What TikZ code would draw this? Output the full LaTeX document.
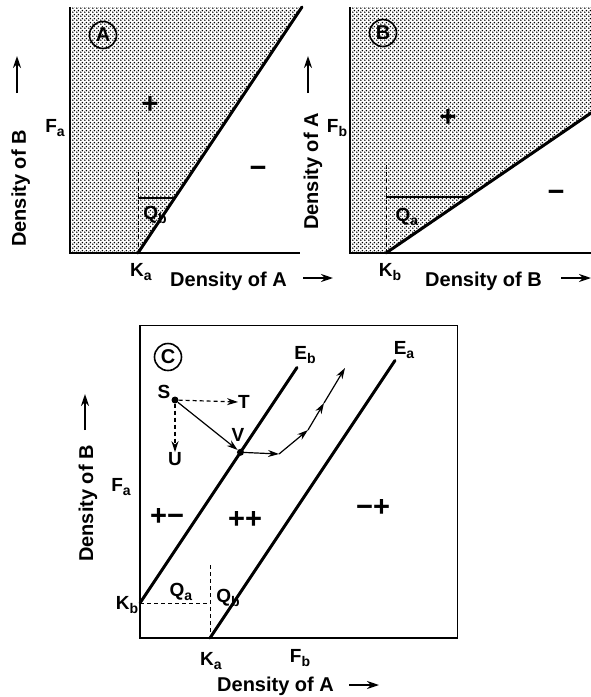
\documentclass[tikz,border=0pt]{standalone}
\usepackage{fontspec}
\setmainfont{Liberation Sans}
\usetikzlibrary{arrows.meta, patterns, calc}

\pgfdeclarepatternformonly{stipple}{\pgfpointorigin}{\pgfqpoint{4pt}{4pt}}{\pgfqpoint{4pt}{4pt}}{%
  \pgfpathcircle{\pgfqpoint{1pt}{1pt}}{1.02pt}%
  \pgfpathcircle{\pgfqpoint{3pt}{3pt}}{1.02pt}%
  \pgfusepath{fill}}

\newcommand{\lsub}[2]{#1\raisebox{-0.25em}{\fontsize{14}{15}\selectfont #2}}

\tikzset{
  axis/.style={line width=1.5pt},
  border/.style={line width=0.8pt},
  isocline/.style={line width=3pt, line cap=round},
  guide/.style={line width=1pt, dash pattern=on 4pt off 3pt},
  qline/.style={line width=1.3pt},
  lab/.style={font=\fontsize{19}{21}\selectfont\bfseries, inner sep=0pt},
  sign/.style={font=\fontsize{29}{31}\selectfont\bfseries, inner sep=0pt},
  axtitle/.style={font=\fontsize{20}{22}\selectfont\bfseries, inner sep=0pt},
  paneltag/.style={circle, draw, line width=1.6pt, minimum size=27pt, inner sep=0pt,
    font=\fontsize{20}{22}\selectfont\bfseries},
  axarrow/.style={-{Stealth[length=12pt,width=8pt]}, line width=2pt},
  flow/.style={-{Stealth[length=11pt,width=7pt]}, line width=1.2pt},
  state/.style={circle, fill, inner sep=0pt, minimum size=7pt}
}

\begin{document}
\begin{tikzpicture}[x=1pt,y=-1pt]
  \path[use as bounding box] (0,0) rectangle (591,697);

  % panel A
  \coordinate (A-o) at (70,253);
  \coordinate (A-ytop) at (70,7);
  \coordinate (A-xend) at (300,253);
  \coordinate (A-Ka) at (138,253);
  \coordinate (A-top) at (302,7);
  \coordinate (A-qv) at (138,172);
  \coordinate (A-qh) at (138,198);
  \coordinate (A-qx) at (175,198);
  \fill[pattern=stipple] (A-ytop) -- (A-o) -- (A-Ka) -- (A-top) -- cycle;
  \draw[axis] (A-ytop) -- (A-o) -- (A-xend);
  \draw[isocline] (A-Ka) -- (A-top);
  \draw[guide] (A-qv) -- (A-Ka);
  \draw[qline] (A-qh) -- (A-qx);

  \node[paneltag] (A-tag) at (103,35) {A};
  \node[sign] (A-plus) at (150,105) {+};
  \node[sign] (A-minus) at (258,172) {−};
  \node[lab] (A-Fa) at (55,128) {\lsub{F}{a}};
  \node[lab] (A-Kalab) at (141,272) {\lsub{K}{a}};
  \node[lab] (A-Qb) at (155,215) {\lsub{Q}{b}};
  \node[axtitle, anchor=base west] (A-xlab) at (170,286) {Density of A};
  \node[axtitle, rotate=90, anchor=base west] (A-ylab) at (26,247) {Density of B};
  \coordinate (A-xarr) at (303,278);
  \coordinate (A-yarr) at (17,93);
  \draw[axarrow] (A-xarr) -- ++(30,0);
  \draw[axarrow] (A-yarr) -- ++(0,-37);

  % panel B
  \coordinate (B-o) at (350,253);
  \coordinate (B-ytop) at (350,7);
  \coordinate (B-xend) at (591,253);
  \coordinate (B-corner) at (591,7);
  \coordinate (B-Kb) at (386,253);
  \coordinate (B-top) at (591,113);
  \coordinate (B-qv) at (386,165);
  \coordinate (B-qh) at (386,197);
  \coordinate (B-qx) at (468,197);
  \fill[pattern=stipple] (B-ytop) -- (B-o) -- (B-Kb) -- (B-top) -- (B-corner) -- cycle;
  \draw[axis] (B-ytop) -- (B-o) -- (B-xend);
  \draw[isocline] (B-Kb) -- (B-top);
  \draw[guide] (B-qv) -- (B-Kb);
  \draw[qline] (B-qh) -- (B-qx);

  \node[paneltag] (B-tag) at (383,33) {B};
  \node[sign] (B-plus) at (448,118) {+};
  \node[sign] (B-minus) at (556,196) {−};
  \node[lab] (B-Fb) at (337,128) {\lsub{F}{b}};
  \node[lab] (B-Kblab) at (390,272) {\lsub{K}{b}};
  \node[lab] (B-Qa) at (407,217) {\lsub{Q}{a}};
  \node[axtitle, anchor=base west] (B-xlab) at (425,286) {Density of B};
  \node[axtitle, rotate=90, anchor=base west] (B-ylab) at (318,230) {Density of A};
  \coordinate (B-xarr) at (561,278);
  \coordinate (B-yarr) at (308,93);
  \draw[axarrow] (B-xarr) -- ++(30,0);
  \draw[axarrow] (B-yarr) -- ++(0,-37);

  % panel C
  \coordinate (C-o) at (140,638);
  \coordinate (C-ytop) at (140,325);
  \coordinate (C-xend) at (457,638);
  \coordinate (C-Kb) at (140,603);
  \coordinate (C-Ebtop) at (297,367.5);
  \coordinate (C-Ka) at (210,638);
  \coordinate (C-Eatop) at (395,360.5);
  \coordinate (C-Q) at (210,603);
  \coordinate (C-qv) at (210,565);
  \draw[border] (C-ytop) rectangle (C-xend);
  \draw[axis] (C-ytop) -- (C-o) -- (C-xend);
  \draw[isocline] (C-Kb) -- (C-Ebtop);
  \draw[isocline] (C-Ka) -- (C-Eatop);
  \draw[guide] (C-Kb) -- (C-Q);
  \draw[guide] (C-qv) -- (C-Ka);

  \node[paneltag] (C-tag) at (168,357) {C};
  \node[lab] (C-Eb) at (305,355) {\lsub{E}{b}};
  \node[lab] (C-Ea) at (404,350) {\lsub{E}{a}};
  \foreach \nm/\x/\y/\txt in {pm/167/517/{+−}, pp/245/520/{++}, mp/373/508/{−+}}
    \node[sign] (C-\nm) at (\x,\y) {\txt};
  \node[lab] (C-Fa) at (121,487) {\lsub{F}{a}};
  \node[lab] (C-Kblab) at (127,605) {\lsub{K}{b}};
  \node[lab] (C-Kalab) at (211,661) {\lsub{K}{a}};
  \node[lab] (C-Fb) at (300,658) {\lsub{F}{b}};
  \node[lab] (C-Qa) at (181,592) {\lsub{Q}{a}};
  \node[lab] (C-Qb) at (228,598) {\lsub{Q}{b}};

  % trajectory
  \node[state] (S) at (175,400) {};
  \node[state] (V) at ($(C-Kb)!0.64!(C-Ebtop)$) {};
  \node[lab] (S-lab) at (164,392) {S};
  \node[lab] (V-lab) at (238,435) {V};
  \node[lab] (T) at (244,402) {T};
  \node[lab] (U) at (175,459) {U};
  \coordinate (P1) at (279,454);
  \coordinate (P2) at (308,430);
  \coordinate (P3) at (324,403);
  \coordinate (P4) at (345,368);
  \draw[flow, dash pattern=on 4pt off 3pt] (S) -- (T.west);
  \draw[flow, dash pattern=on 4pt off 3pt] (S) -- (U.north);
  \draw[flow] (S) -- (V);
  \draw[flow] (V) -- (P1);
  \draw[flow] (P1) -- (P2);
  \draw[flow] (P2) -- (P3);
  \draw[flow] (P3) -- (P4);

  \node[axtitle, anchor=base west] (C-xlab) at (217,691) {Density of A};
  \node[axtitle, rotate=90, anchor=base west] (C-ylab) at (93,562) {Density of B};
  \coordinate (C-xarr) at (349,685);
  \coordinate (C-yarr) at (85,430);
  \draw[axarrow] (C-xarr) -- ++(30,0);
  \draw[axarrow] (C-yarr) -- ++(0,-36);
\end{tikzpicture}
\end{document}
